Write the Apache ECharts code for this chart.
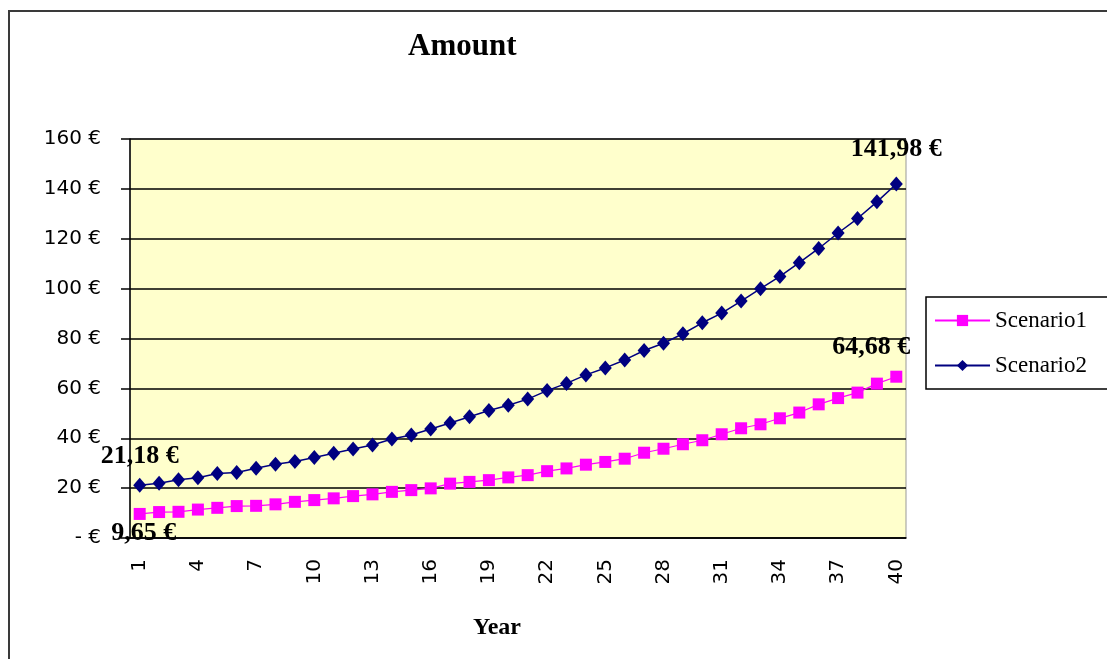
<!DOCTYPE html>
<html>
<head>
<meta charset="utf-8">
<script src="https://cdn.jsdelivr.net/npm/echarts@6/dist/echarts.min.js"></script>
<style>html,body{margin:0;padding:0;background:#fff}#c{width:1107px;height:659px}</style>
</head>
<body>
<div id="c"></div>
<script>
const years = Array.from({length: 40}, (_, i) => String(i + 1));
const scenario1 = [9.65, 10.4, 10.5, 11.4, 12.1, 12.8, 12.9, 13.5, 14.5, 15.2, 15.9, 16.8, 17.5, 18.5, 19.2, 19.9, 21.8, 22.5, 23.2, 24.3,
  25.2, 26.8, 27.9, 29.4, 30.5, 31.8, 34.2, 35.8, 37.6, 39.2, 41.6, 44.0, 45.6, 48.0, 50.3, 53.6, 56.1, 58.3, 61.9, 64.68];
const scenario2 = [21.18, 22.0, 23.4, 24.2, 25.9, 26.3, 28.0, 29.6, 30.7, 32.3, 34.0, 35.7, 37.3, 39.7, 41.3, 43.7, 46.1, 48.6, 51.1, 53.2,
  55.7, 59.1, 62.0, 65.4, 68.2, 71.4, 75.2, 78.1, 81.9, 86.3, 90.2, 95.0, 100.0, 104.9, 110.4, 116.1, 122.3, 128.1, 134.8, 141.98];
const yTicks = {min: 0, max: 160, interval: 20};
const seriesNames = ['Scenario1', 'Scenario2'];

const fmtEuro = v => v.toFixed(2).replace('.', ',') + ' €';
const labelFont = {fontFamily: 'Liberation Serif', fontWeight: 'bold', fontSize: 26, color: '#000'};

function buildData(arr, firstLabel, lastLabel) {
  return arr.map((v, i) => {
    if (i === 0) return {value: v, label: Object.assign({show: true}, firstLabel)};
    if (i === arr.length - 1) return {value: v, label: Object.assign({show: true}, lastLabel)};
    return v;
  });
}

const chart = echarts.init(document.getElementById('c'));
chart.setOption({
  backgroundColor: '#ffffff',
  animation: false,
  title: {
    text: 'Amount', left: 403, top: 26,
    textStyle: {fontFamily: 'Liberation Serif', fontWeight: 'bold', fontSize: 31, color: '#000'}
  },
  graphic: [
    {type: 'rect', shape: {x: 9, y: 11, width: 1200, height: 800}, style: {fill: 'none', stroke: '#3a3a3a', lineWidth: 2}, z: -1},
    {type: 'text', left: 473, top: 616, style: {text: 'Year', fontFamily: 'Liberation Serif', fontWeight: 'bold', fontSize: 24, fill: '#000'}}
  ],
  legend: {
    data: seriesNames,
    orient: 'vertical',
    left: 926, top: 297,
    itemWidth: 55, itemHeight: 14, itemGap: 22,
    padding: [12, 30, 12, 8],
    borderColor: '#000', borderWidth: 1.5,
    backgroundColor: '#fff',
    textStyle: {fontFamily: 'Liberation Serif', fontSize: 23, color: '#000'}
  },
  grid: {
    left: 130, right: 201, top: 139, bottom: 121,
    show: true, backgroundColor: '#FFFFCC', borderColor: '#999', borderWidth: 1
  },
  xAxis: {
    type: 'category', data: years, boundaryGap: true,
    axisLine: {lineStyle: {color: '#000', width: 1.5}},
    axisTick: {interval: 0, length: 9, lineStyle: {color: '#000', width: 1.5}},
    axisLabel: {interval: 2, rotate: 90, margin: 21, fontFamily: 'DejaVu Sans', fontSize: 20, color: '#000'},
    splitLine: {show: false}
  },
  yAxis: {
    type: 'value', min: yTicks.min, max: yTicks.max, interval: yTicks.interval,
    axisLine: {show: true, lineStyle: {color: '#000', width: 1.5}},
    axisTick: {show: true, length: 9, lineStyle: {color: '#000', width: 1.5}},
    axisLabel: {margin: 29, fontFamily: 'DejaVu Sans', fontSize: 20, color: '#000',
      formatter: v => v === 0 ? '- €' : v + ' €'},
    splitLine: {show: true, lineStyle: {color: '#000', width: 1.5}}
  },
  series: [
    {
      name: seriesNames[0], type: 'line',
      data: buildData(scenario1,
        {position: 'bottom', distance: 0, offset: [4, 0], formatter: p => fmtEuro(p.value)},
        {position: 'top', distance: 10, offset: [-25, 0], formatter: p => fmtEuro(p.value)}),
      symbol: 'rect', symbolSize: 12, showAllSymbol: true,
      itemStyle: {color: '#FF00FF'},
      lineStyle: {color: '#FF00FF', width: 1.2},
      label: labelFont
    },
    {
      name: seriesNames[1], type: 'line',
      data: buildData(scenario2,
        {position: 'top', distance: 8, offset: [0, 0], formatter: p => fmtEuro(p.value)},
        {position: 'top', distance: 14, offset: [0, 0], formatter: p => fmtEuro(p.value)}),
      symbol: 'diamond', symbolSize: [13, 15], showAllSymbol: true,
      itemStyle: {color: '#000080'},
      lineStyle: {color: '#000080', width: 1.5},
      label: labelFont
    }
  ]
});
</script>
</body>
</html>
